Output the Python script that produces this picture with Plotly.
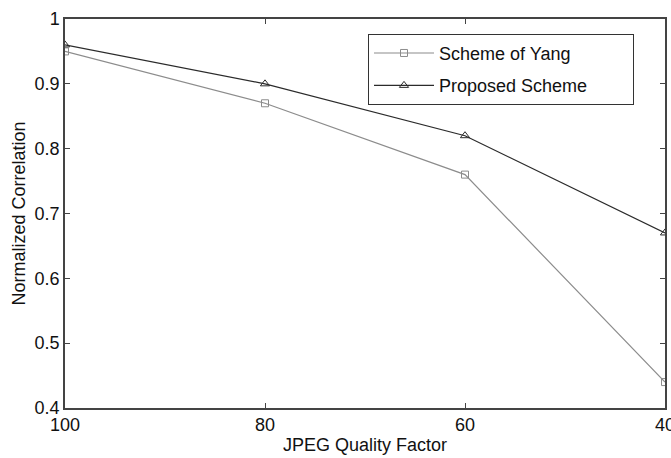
import plotly.graph_objects as go

quality = [100, 80, 60, 40]
yang = [0.95, 0.87, 0.76, 0.44]
proposed = [0.96, 0.90, 0.82, 0.67]

FONT = "Liberation Sans, Arial, Helvetica"
PAD = "\u00a0" * 8

fig = go.Figure()
fig.add_trace(go.Scatter(
    x=quality, y=yang, name="Scheme of Yang" + PAD, mode="lines+markers",
    legendgroup="a",
    line=dict(color="#8c8c8c", width=1.2),
    marker=dict(symbol="square-open", size=7, color="#8c8c8c", line=dict(width=1)),
))
fig.add_trace(go.Scatter(
    x=quality, y=proposed, name="Proposed Scheme" + PAD, mode="lines+markers",
    legendgroup="b",
    line=dict(color="#2b2b2b", width=1.2),
    marker=dict(symbol="triangle-up-open", size=8, color="#2b2b2b", line=dict(width=1)),
))

axis_common = dict(
    showline=True, linecolor="#444", linewidth=1.5, mirror="ticks",
    ticks="inside", ticklen=5, tickcolor="#444", showgrid=False, zeroline=False,
    automargin=False,
    tickfont=dict(family=FONT, size=18, color="#111"),
)

fig.update_layout(
    width=671, height=458,
    margin=dict(l=65, r=6, t=19, b=50),
    paper_bgcolor="white", plot_bgcolor="white",
    showlegend=True,
    legend=dict(
        x=0.505, y=0.962, xanchor="left", yanchor="top",
        bgcolor="white", bordercolor="#333", borderwidth=1,
        font=dict(family=FONT, size=18, color="#111"),
        itemwidth=60, tracegroupgap=6,
    ),
    xaxis=dict(
        range=[100, 40], tickvals=[100, 80, 60, 40],
        ticklabeloverflow="allow",
        title=dict(text="JPEG Quality Factor", standoff=4,
                   font=dict(family=FONT, size=18, color="#111")),
        **axis_common,
    ),
    yaxis=dict(
        range=[0.4, 1.0], dtick=0.1, tickformat="~g",
        title=dict(text="Normalized Correlation", standoff=4,
                   font=dict(family=FONT, size=18, color="#111")),
        **axis_common,
    ),
)

fig.write_html("out.html")
